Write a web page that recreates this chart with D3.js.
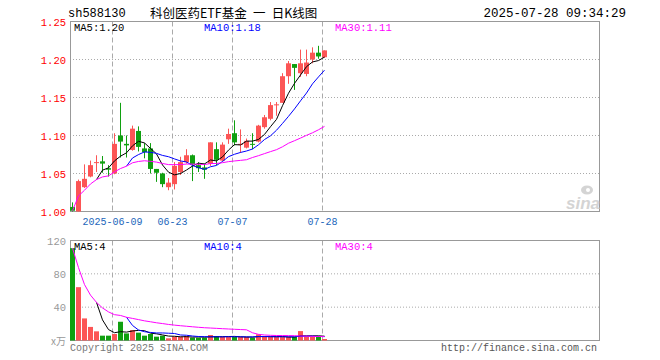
<!DOCTYPE html>
<html lang="zh">
<head>
<meta charset="UTF-8">
<title>sh588130 日K线图</title>
<script src="https://d3js.org/d3.v7.min.js"></script>
<style>
  body { margin: 0; background: #fff; }
  svg { display: block; }
  .mono { font-family: "Liberation Mono", "DejaVu Sans Mono", monospace; }
</style>
</head>
<body>
<svg width="660" height="360"></svg>
<script>
// daily candles, oldest first (05-28 .. 07-28)
const opens  = [1.006, 1.000, 1.032, 1.046, 1.064, 1.066, 1.057, 1.050, 1.100, 1.089,
                1.081, 1.106, 1.083, 1.083, 1.056, 1.050, 1.032, 1.036, 1.052, 1.065,
                1.074, 1.061, 1.058, 1.063, 1.082, 1.067, 1.095, 1.103, 1.088, 1.084,
                1.089, 1.092, 1.111, 1.122, 1.140, 1.143, 1.178, 1.194, 1.182, 1.181,
                1.200, 1.209, 1.203];
const closes = [1.001, 1.040, 1.043, 1.061, 1.065, 1.063, 1.055, 1.089, 1.092, 1.087,
                1.109, 1.085, 1.078, 1.056, 1.051, 1.036, 1.038, 1.060, 1.065, 1.074,
                1.062, 1.057, 1.055, 1.091, 1.068, 1.088, 1.102, 1.091, 1.089, 1.093,
                1.088, 1.113, 1.124, 1.140, 1.141, 1.178, 1.195, 1.189, 1.195, 1.196,
                1.209, 1.204, 1.212];
const highs  = [1.012, 1.042, 1.062, 1.067, 1.074, 1.073, 1.061, 1.103, 1.143, 1.100,
                1.113, 1.112, 1.090, 1.090, 1.056, 1.051, 1.044, 1.065, 1.072, 1.082,
                1.075, 1.065, 1.063, 1.091, 1.091, 1.091, 1.109, 1.120, 1.108, 1.096,
                1.103, 1.114, 1.127, 1.144, 1.144, 1.182, 1.198, 1.194, 1.213, 1.213,
                1.216, 1.218, 1.212];
const lows   = [1.000, 1.000, 1.031, 1.045, 1.052, 1.051, 1.046, 1.049, 1.071, 1.071,
                1.080, 1.079, 1.070, 1.050, 1.039, 1.032, 1.028, 1.029, 1.048, 1.063,
                1.040, 1.052, 1.043, 1.060, 1.061, 1.066, 1.089, 1.087, 1.077, 1.083,
                1.082, 1.091, 1.109, 1.120, 1.126, 1.143, 1.168, 1.160, 1.177, 1.178,
                1.195, 1.201, 1.202];
// volume, x万
const volumes = [110.8, 64.0, 26.5, 16.3, 11.0, 5.8, 5.8, 7.8, 22.5, 8.5,
                 12.5, 9.4, 5.8, 7.8, 4.6, 5.8, 2.6, 4.6, 4.6, 5.4,
                 3.4, 3.4, 3.4, 6.6, 5.4, 4.2, 4.2, 4.2, 4.2, 4.2,
                 3.4, 7.4, 4.2, 4.2, 4.2, 4.2, 4.2, 4.2, 11.3, 4.2,
                 4.2, 4.2, 1.8];

const tickIndex  = [7, 17, 27, 42];
const tickLabels = ["2025-06-09", "06-23", "07-07", "07-28"];
const priceTicks = [1.00, 1.05, 1.10, 1.15, 1.20, 1.25];
const volTicks   = [40, 80, 120];
const priceMaText = ["MA5:1.20", "MA10:1.18", "MA30:1.11"];
const volMaText   = ["MA5:4", "MA10:4", "MA30:4"];

const svg = d3.select("svg");
const RED = "#fc5555", GREEN = "#10a010", GRID = "#aaa";
const maStyle = [{ n: 5, color: "#000", x: 74 }, { n: 10, color: "#00f", x: 204 }, { n: 30, color: "#f0f", x: 335 }];

// 88 day slots across the panel, 6px each
const x = d3.scaleBand().domain(d3.range(88)).range([70, 598]).padding(0);
const y = d3.scaleLinear().domain([1.00, 1.25]).range([211.5, 21.5]);
const yv = d3.scaleLinear().domain([0, 120]).range([340.5, 240.5]);
const cx = i => x(i) + 2.5;

// moving average; the 30-day one uses whatever days exist at the start
function movingAvg(vals, n) {
    const out = [];
    vals.forEach((v, i) => {
        if (i < n - 1 && n < 30) return;
        const w = vals.slice(Math.max(0, i - n + 1), i + 1);
        out.push({ i: i, v: d3.mean(w) });
    });
    return out;
}

// header
svg.append("text").attr("class", "mono").attr("x", 68).attr("y", 17)
    .attr("font-size", 12).text("sh588130");
svg.append("text").attr("x", 150).attr("y", 18)
    .attr("font-family", "'Noto Sans CJK SC', sans-serif").attr("font-size", 12.5)
    .text("科创医药ETF基金\u2002一\u2002日K线图");
svg.append("text").attr("class", "mono").attr("x", 626).attr("y", 17)
    .attr("text-anchor", "end").attr("font-size", 12.5).text("2025-07-28 09:34:29");

// panels
function panel(top, bottom, scale, ticks) {
    svg.append("g").selectAll("line").data(ticks.filter(t => scale(t) > top + 1 && scale(t) < bottom - 1))
        .join("line")
        .attr("x1", 70).attr("x2", 600)
        .attr("y1", d => scale(d)).attr("y2", d => scale(d))
        .attr("stroke", GRID).attr("stroke-dasharray", "1,2");
    svg.append("g").selectAll("line").data(tickIndex).join("line")
        .attr("x1", d => x(d) + 0.5).attr("x2", d => x(d) + 0.5)
        .attr("y1", top).attr("y2", bottom)
        .attr("stroke", GRID).attr("stroke-dasharray", "5,3");
    svg.append("rect").attr("x", 70.5).attr("y", top).attr("width", 529).attr("height", bottom - top)
        .attr("fill", "none").attr("stroke", "#999");
}
panel(21.5, 211.5, y, priceTicks);
panel(240.5, 340.5, yv, volTicks);

// axis labels
svg.append("g").selectAll("text").data(priceTicks).join("text")
    .attr("class", "mono").attr("x", 66).attr("y", d => y(d) + 4)
    .attr("text-anchor", "end").attr("font-size", 10.5).attr("fill", "#f00")
    .text(d => d.toFixed(2));
svg.append("g").selectAll("text").data(volTicks).join("text")
    .attr("class", "mono").attr("x", 66).attr("y", d => yv(d) + 4)
    .attr("text-anchor", "end").attr("font-size", 10.5).attr("fill", "#999")
    .text(d => d);
svg.append("text").attr("x", 66).attr("y", 345).attr("text-anchor", "end")
    .attr("font-family", "'Noto Sans CJK SC', sans-serif").attr("font-size", 10)
    .attr("fill", "#999").text("x万");
svg.append("g").selectAll("text").data(tickIndex).join("text")
    .attr("class", "mono").attr("x", d => x(d) + 0.5).attr("y", 225)
    .attr("text-anchor", "middle").attr("font-size", 10).attr("fill", "#2266bb")
    .text((d, k) => tickLabels[k]);

// sina watermark
const logo = svg.append("g").attr("fill", "#d4d4d4");
logo.append("text").attr("x", 566).attr("y", 209).attr("font-family", "Arial, 'Liberation Sans', sans-serif")
    .attr("font-size", 17).attr("font-style", "italic").attr("font-weight", "bold").text("sina");
logo.append("ellipse").attr("cx", 587).attr("cy", 190).attr("rx", 6).attr("ry", 4.5);
logo.append("circle").attr("cx", 588).attr("cy", 190).attr("r", 2).attr("fill", "#fff");

// candles
const candles = svg.append("g");
closes.forEach((c, i) => {
    const up = c >= opens[i];
    const col = up ? RED : GREEN;
    candles.append("line")
        .attr("x1", cx(i)).attr("x2", cx(i))
        .attr("y1", y(highs[i])).attr("y2", y(lows[i]))
        .attr("stroke", col);
    const top = y(Math.max(c, opens[i])), bot = y(Math.min(c, opens[i]));
    candles.append("rect")
        .attr("x", x(i)).attr("y", top)
        .attr("width", 5).attr("height", Math.max(1, bot - top))
        .attr("fill", col);
});

// volume bars
svg.append("g").selectAll("rect").data(volumes).join("rect")
    .attr("x", (d, i) => x(i)).attr("y", d => yv(d))
    .attr("width", 5).attr("height", d => yv(0) - yv(d))
    .attr("fill", (d, i) => closes[i] >= opens[i] ? RED : GREEN);

// moving average lines
maStyle.forEach((m, k) => {
    const pl = d3.line().x(d => cx(d.i)).y(d => y(d.v));
    svg.append("path").datum(movingAvg(closes, m.n)).attr("d", pl)
        .attr("fill", "none").attr("stroke", m.color).attr("stroke-width", 1);
    const vl = d3.line().x(d => cx(d.i)).y(d => yv(d.v));
    svg.append("path").datum(movingAvg(volumes, m.n)).attr("d", vl)
        .attr("fill", "none").attr("stroke", m.color).attr("stroke-width", 1);
    svg.append("text").attr("class", "mono").attr("x", m.x).attr("y", 31)
        .attr("font-size", 10.5).attr("fill", m.color).text(priceMaText[k]);
    svg.append("text").attr("class", "mono").attr("x", m.x).attr("y", 250)
        .attr("font-size", 10.5).attr("fill", m.color).text(volMaText[k]);
});

// footer
svg.append("text").attr("class", "mono").attr("x", 70).attr("y", 351)
    .attr("font-size", 10).attr("fill", "#777").text("Copyright 2025 SINA.COM");
svg.append("text").attr("class", "mono").attr("x", 597).attr("y", 351)
    .attr("text-anchor", "end").attr("font-size", 10).attr("fill", "#555").text("http://finance.sina.com.cn");
</script>
</body>
</html>
